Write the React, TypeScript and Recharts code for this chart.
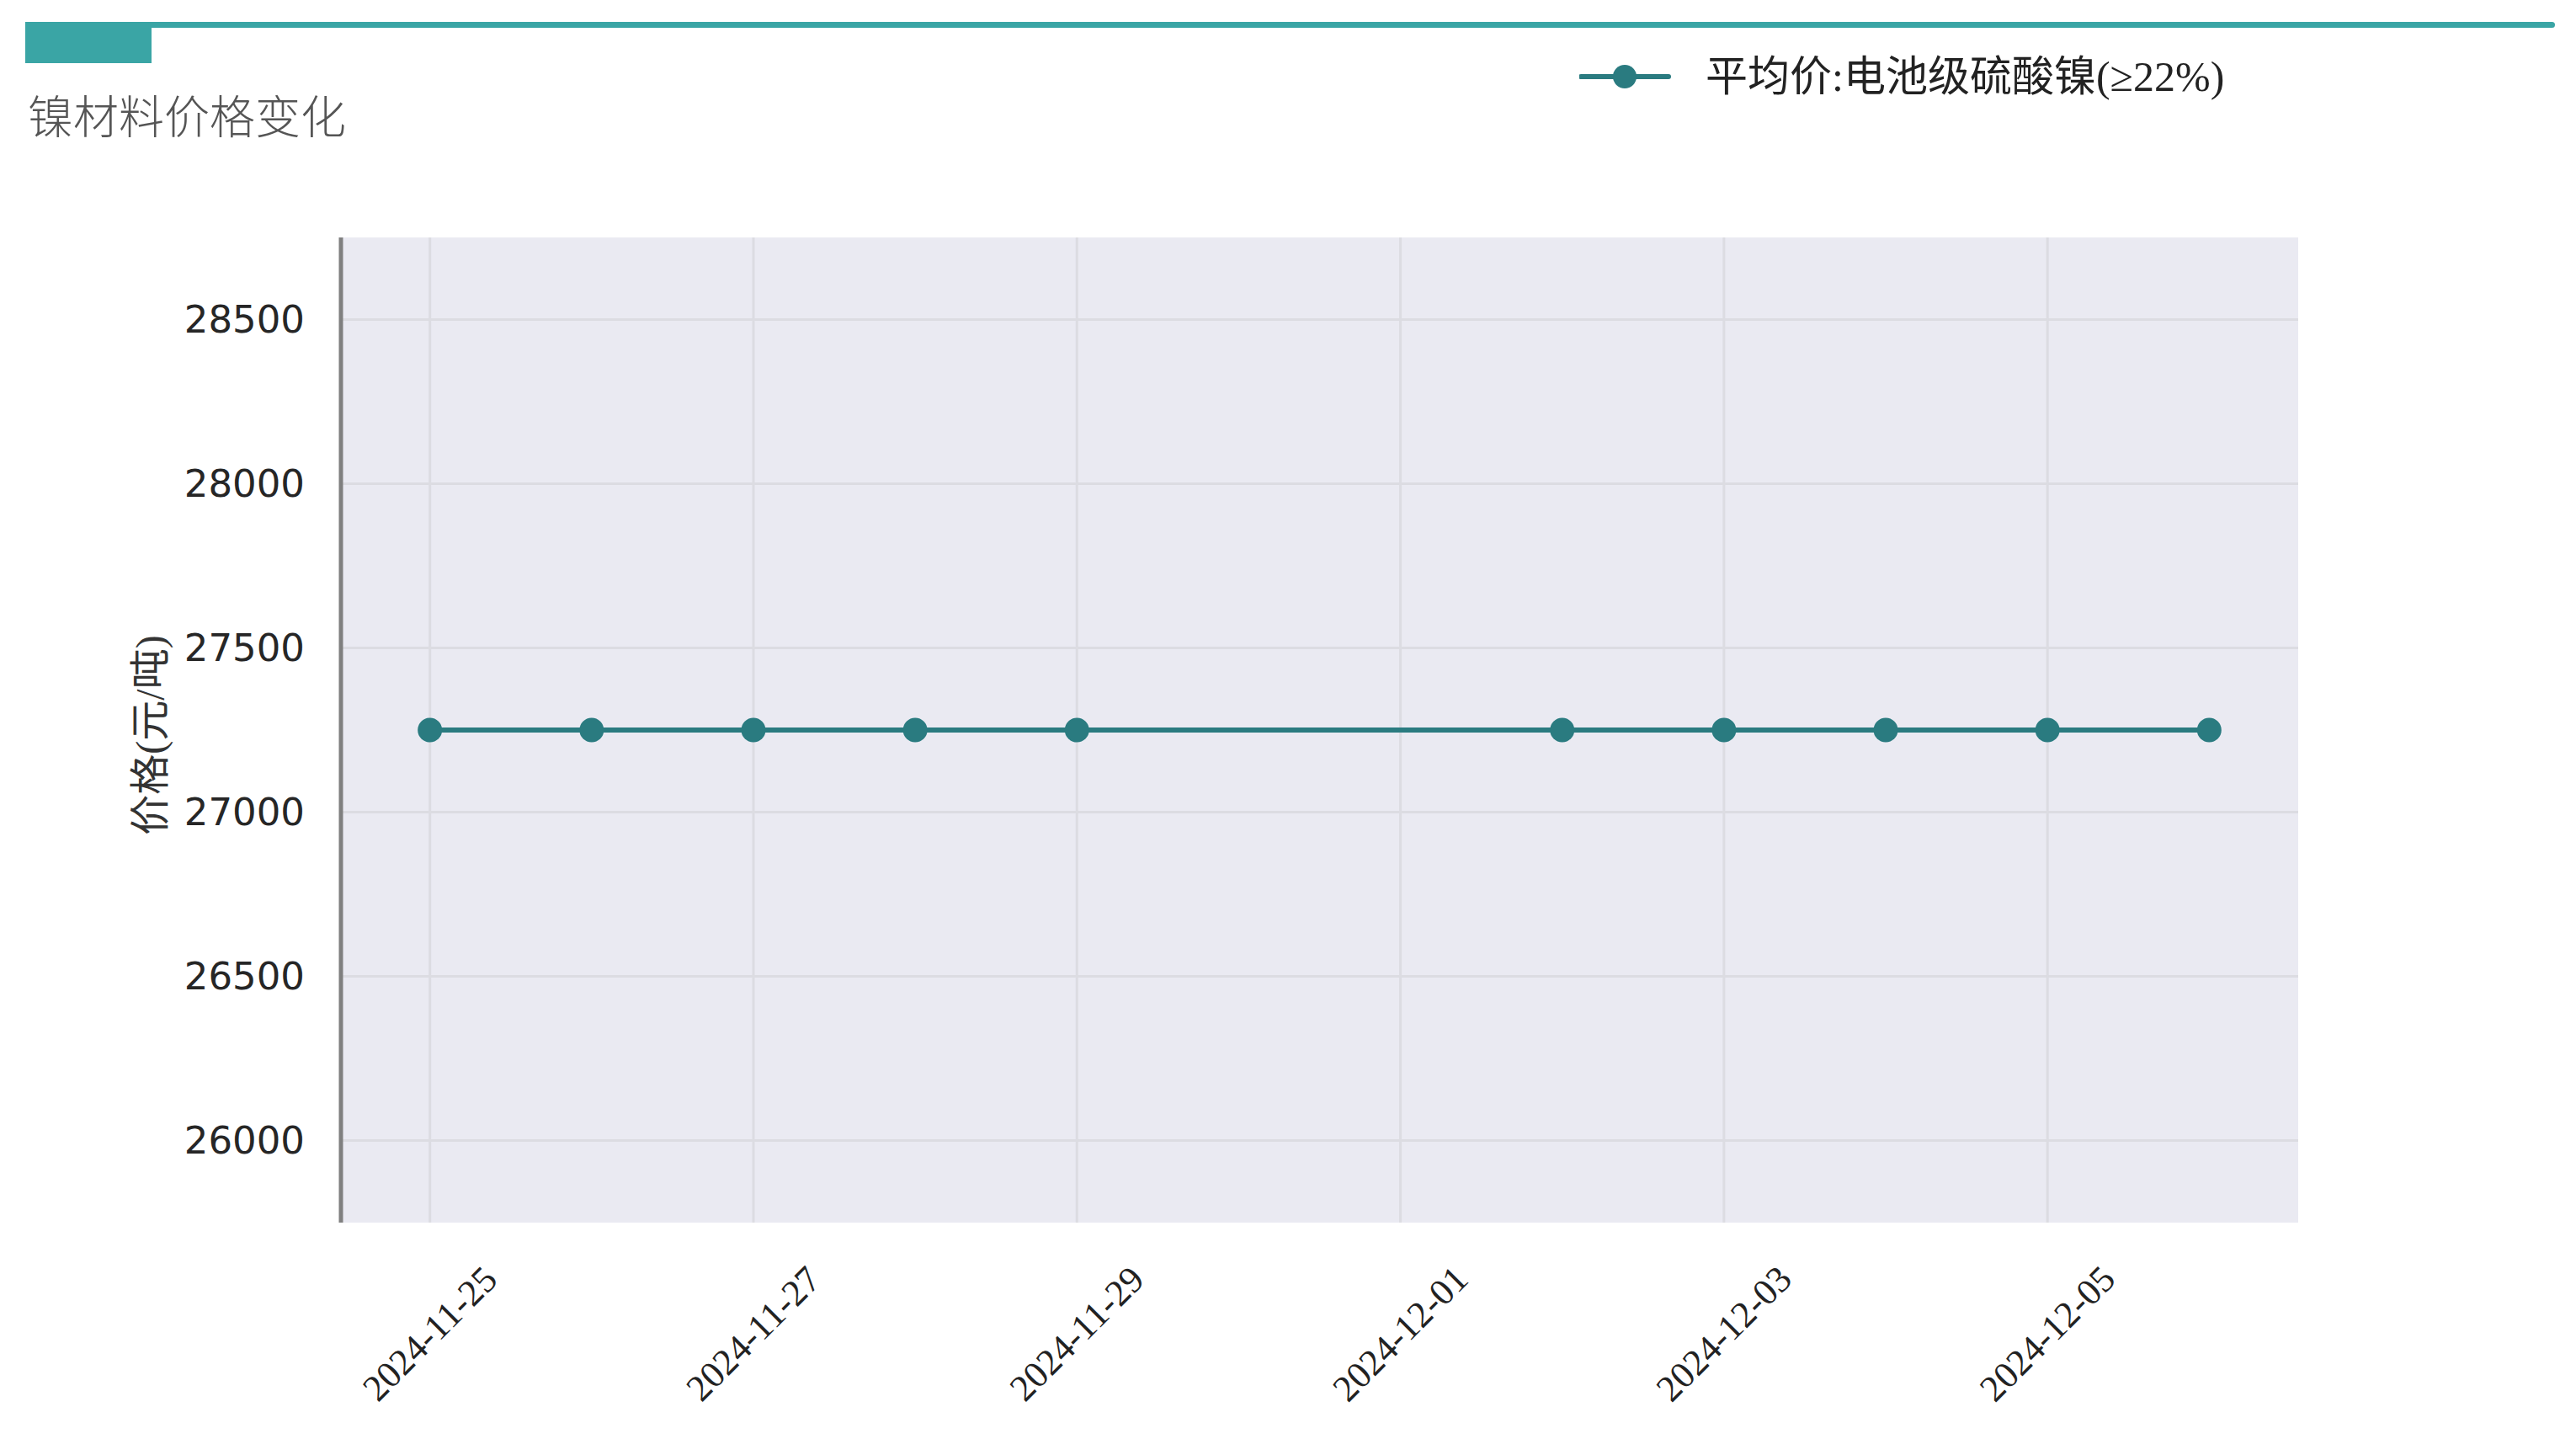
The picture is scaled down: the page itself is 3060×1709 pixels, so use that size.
import {
  LineChart, Line, XAxis, YAxis, CartesianGrid, Legend,
} from 'recharts'

const dates = [
  '2024-11-25', '2024-11-26', '2024-11-27', '2024-11-28', '2024-11-29',
  '2024-12-02', '2024-12-03', '2024-12-04', '2024-12-05', '2024-12-06',
]
const prices = [27250, 27250, 27250, 27250, 27250, 27250, 27250, 27250, 27250, 27250]
const xTickDates = ['2024-11-25', '2024-11-27', '2024-11-29', '2024-12-01', '2024-12-03', '2024-12-05']
const yTicks = [26000, 26500, 27000, 27500, 28000, 28500]
const seriesName = '平均价:电池级硫酸镍(≥22%)'
const chartTitle = '镍材料价格变化'
const yLabel = '价格(元/吨)'

const W = 3060
const H = 1709
const PLOT_LEFT = 405
const PLOT_RIGHT = 2730
const PLOT_TOP = 282
const PLOT_BOTTOM = 1452

const TEAL = '#3aa5a5'
const LINE = '#2a7b80'

const DAY = 24 * 3600 * 1000
const start = Date.parse(dates[0])
const toDay = (d: string) => (Date.parse(d) - start) / DAY

const data = dates.map((d, i) => ({ day: toDay(d), date: d, price: prices[i] }))
const xTicks = xTickDates.map(toDay)
const lastDay = toDay(dates[dates.length - 1])
const pad = lastDay * 0.05

function XTick({ x, payload }: any) {
  const cy = PLOT_BOTTOM + 132
  return (
    <text
      x={x}
      y={cy}
      transform={`rotate(-45, ${x}, ${cy})`}
      textAnchor="middle"
      dominantBaseline="central"
      fontFamily="'Liberation Serif', serif"
      fontSize={44}
      fill="#222"
    >
      {xTickDates[xTicks.indexOf(payload.value)]}
    </text>
  )
}

function YTick({ y, payload }: any) {
  return (
    <text
      x={PLOT_LEFT - 43}
      y={y}
      textAnchor="end"
      dominantBaseline="central"
      fontFamily="'DejaVu Sans', sans-serif"
      fontSize={45}
      fill="#262626"
    >
      {payload.value}
    </text>
  )
}

function LegendContent() {
  return (
    <div style={{ display: 'flex', alignItems: 'center', whiteSpace: 'nowrap' }}>
      <svg width={110} height={40}>
        <line x1={2} y1={20} x2={106} y2={20} stroke={LINE} strokeWidth={6} strokeLinecap="round" />
        <circle cx={54} cy={20} r={14} fill={LINE} />
      </svg>
      <span
        style={{
          marginLeft: 40,
          fontFamily: "'Liberation Serif', 'Noto Sans CJK SC', serif",
          fontSize: 50,
          color: '#222',
          lineHeight: 1,
        }}
      >
        {seriesName}
      </span>
    </div>
  )
}

export default function App() {
  return (
    <div style={{ position: 'absolute', left: 0, top: 0, width: W, height: H, background: '#fff' }}>
      {/* header bar */}
      <div
        style={{
          position: 'absolute', left: 30, top: 26, width: 3005, height: 7,
          background: TEAL, borderRadius: 4,
        }}
      />
      <div style={{ position: 'absolute', left: 30, top: 26, width: 150, height: 49, background: TEAL }} />
      <div
        style={{
          position: 'absolute', left: 33, top: 104,
          fontFamily: "'Noto Sans CJK SC', sans-serif",
          fontSize: 54,
          color: '#555',
          lineHeight: 1.2,
          fontWeight: 300,
        }}
      >
        {chartTitle}
      </div>

      <LineChart
        width={W}
        height={H}
        data={data}
        margin={{ top: PLOT_TOP, right: W - PLOT_RIGHT, left: 0, bottom: 0 }}
        style={{ position: 'absolute', left: 0, top: 0 }}
      >
        <CartesianGrid fill="#eaeaf2" stroke="#dcdce2" strokeWidth={3} syncWithTicks />
        <XAxis
          dataKey="day"
          type="number"
          domain={[-pad, lastDay + pad]}
          ticks={xTicks}
          interval={0}
          height={H - PLOT_BOTTOM}
          axisLine={false}
          tickLine={false}
          tick={<XTick />}
        />
        <YAxis
          type="number"
          domain={[25750, 28750]}
          ticks={yTicks}
          interval={0}
          width={PLOT_LEFT}
          axisLine={{ stroke: '#808080', strokeWidth: 5 }}
          tickLine={false}
          tick={<YTick />}
          label={{
            content: () => (
              <text
                x={178}
                y={873}
                transform="rotate(-90, 178, 873)"
                textAnchor="middle"
                dominantBaseline="central"
                fontFamily="'Liberation Serif', 'Noto Sans CJK SC', serif"
                fontSize={48}
                fill="#333"
              >
                {yLabel}
              </text>
            ),
          }}
        />
        <Legend
          layout="horizontal"
          verticalAlign="middle"
          align="center"
          wrapperStyle={{ top: 66, left: 1876, width: 900 }}
          content={<LegendContent />}
        />
        <Line
          type="linear"
          dataKey="price"
          name={seriesName}
          stroke={LINE}
          strokeWidth={6}
          dot={{ r: 14.5, fill: LINE, stroke: 'none' }}
          activeDot={false}
          isAnimationActive={false}
        />
      </LineChart>
    </div>
  )
}
